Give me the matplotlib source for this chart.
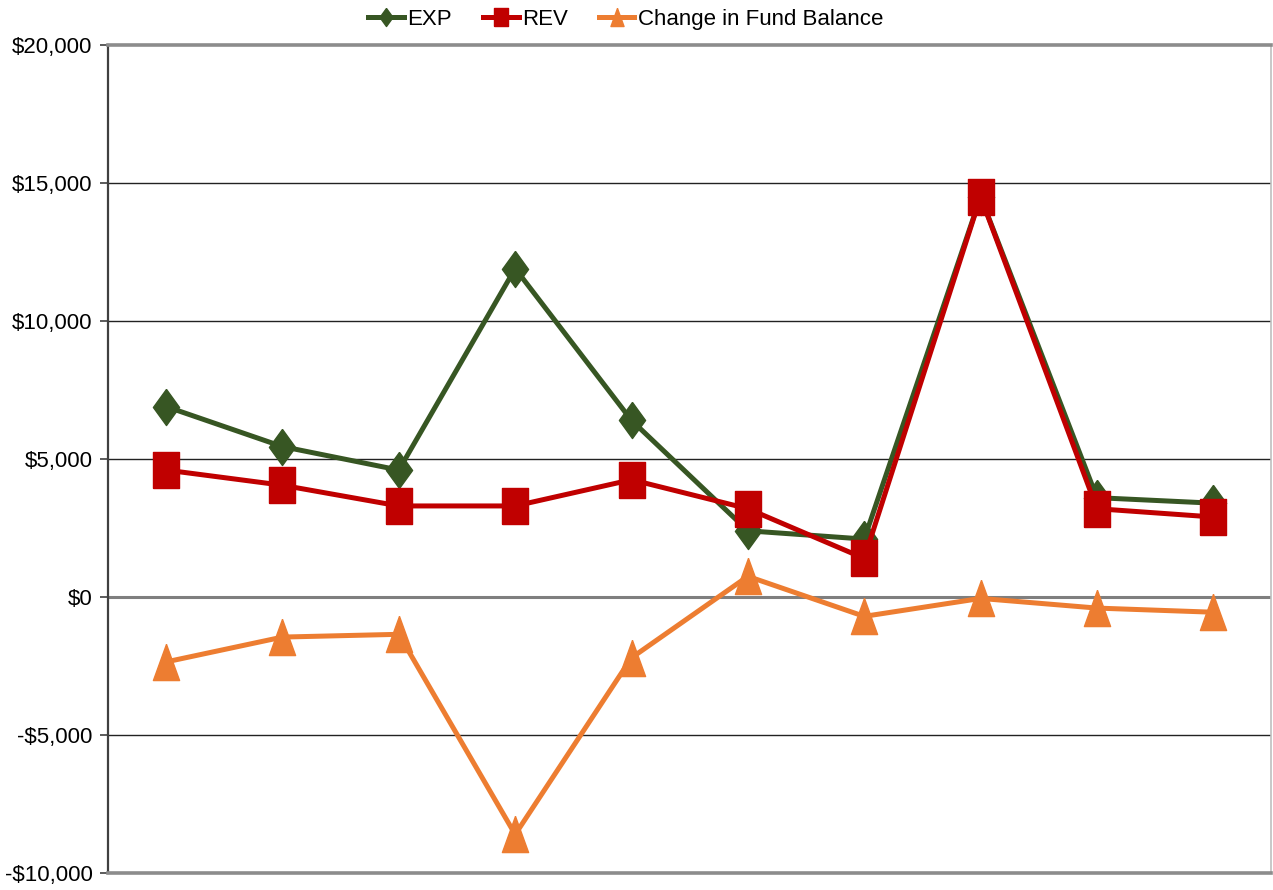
import matplotlib
matplotlib.use('Agg')
import matplotlib.pyplot as plt
from matplotlib.ticker import FuncFormatter
import numpy as np

plt.rcParams['font.family'] = ['Liberation Sans', 'DejaVu Sans']

# ten periods, unlabelled on the x axis
periods = np.arange(10) + 0.5
exp_vals = [6900, 5450, 4600, 11900, 6400, 2400, 2100, 14500, 3600, 3400]
rev_vals = [4600, 4050, 3300, 3300, 4250, 3200, 1400, 14500, 3200, 2900]
chg_vals = [-2350, -1450, -1350, -8600, -2200, 750, -700, -50, -400, -550]

# markers are a bit taller than wide
k = 1.38
diamond = [(0, k), (1, 0), (0, -k), (-1, 0), (0, k)]
square = [(-1, -k), (1, -k), (1, k), (-1, k), (-1, -k)]
triangle = [(0, k), (1, -k), (-1, -k), (0, k)]

fig = plt.figure(figsize=(12.73, 8.9), dpi=100)
ax = fig.add_axes([0.0848, 0.019, 0.914, 0.9305])

ax.plot(periods, exp_vals, color="#375623", lw=3.6, marker=diamond, ms=26, label="EXP", zorder=3)
ax.plot(periods, rev_vals, color="#C00000", lw=3.6, marker=square, ms=26, label="REV", zorder=4)
ax.plot(periods, chg_vals, color="#ED7D31", lw=3.6, marker=triangle, ms=26,
        label="Change in Fund Balance", zorder=3)

ax.set_xlim(0, 10)
ax.set_ylim(-10000, 20000)
ax.set_yticks(np.arange(-10000, 20001, 5000))
ax.yaxis.set_major_formatter(FuncFormatter(lambda v, p: f"${v:,.0f}" if v >= 0 else f"-${-v:,.0f}"))
ax.set_xticks([])
ax.tick_params(axis="y", labelsize=16, length=6, width=1.2, color="#404040", pad=5)

for yv in [-5000, 5000, 10000, 15000]:
    ax.axhline(yv, color="#222222", lw=1.0, zorder=1)
ax.axhline(0, color="#7f7f7f", lw=2.2, zorder=1)

ax.spines["left"].set_color("#404040")
ax.spines["left"].set_linewidth(1.6)
for s in ["top", "bottom"]:
    ax.spines[s].set_color("#8c8c8c")
    ax.spines[s].set_linewidth(2.6)
ax.spines["right"].set_color("#bfbfbf")
ax.spines["right"].set_linewidth(1.2)

leg = ax.legend(loc="lower center", bbox_to_anchor=(0.445, 1.018), ncol=3, frameon=False,
                fontsize=16, markerscale=0.5, handlelength=1.6, handletextpad=0.15,
                columnspacing=1.4, borderaxespad=0.0, borderpad=0.0)

fig.savefig("out.png", dpi=100)
